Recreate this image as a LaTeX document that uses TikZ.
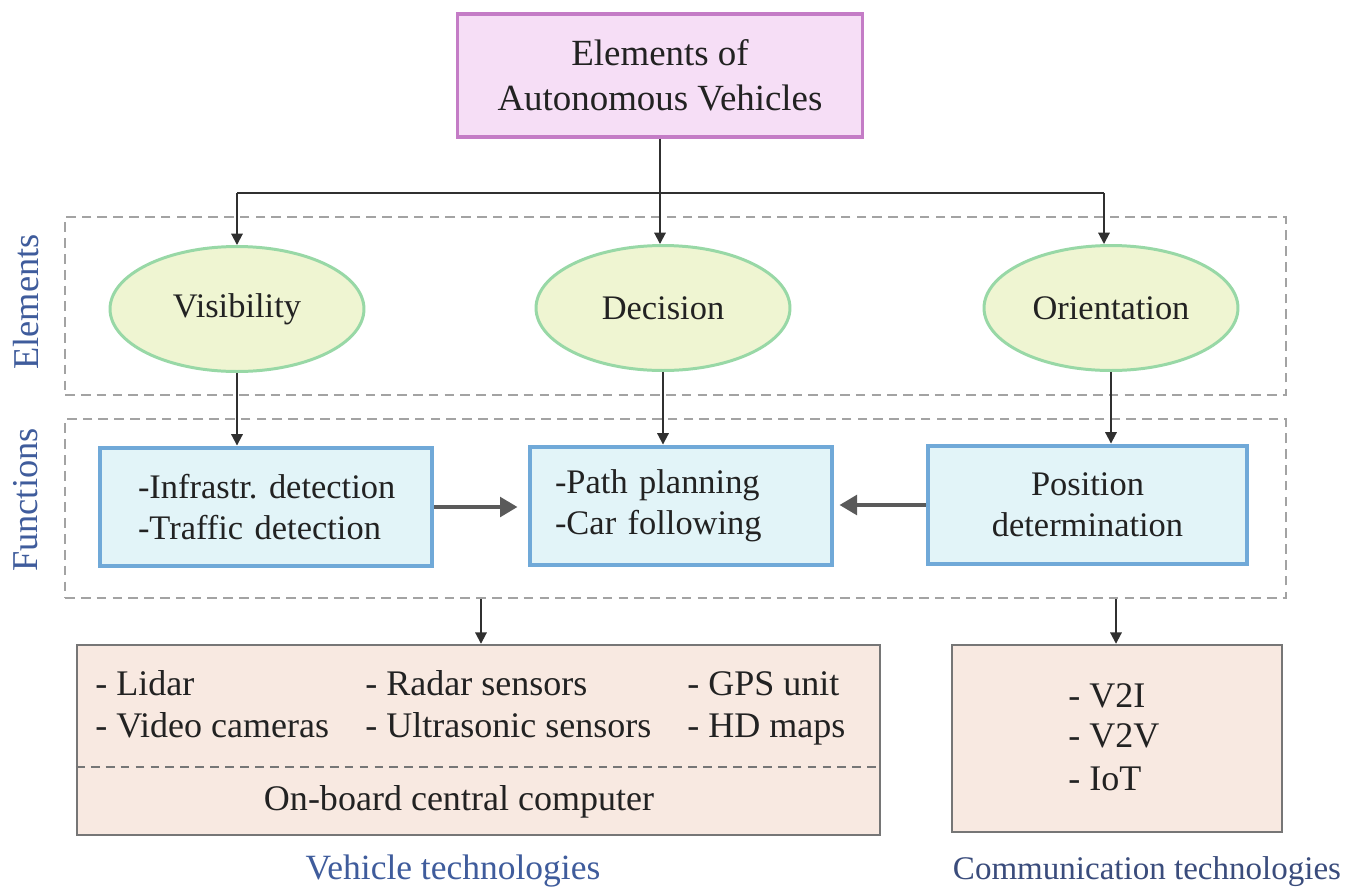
\documentclass[tikz,border=0pt]{standalone}
\usepackage{fontspec}
\setmainfont{Liberation Serif}
\usetikzlibrary{arrows.meta,shapes.geometric}
\frenchspacing

\definecolor{titlefill}{HTML}{F6DEF6}
\definecolor{titleline}{HTML}{C47CC6}
\definecolor{ellfill}{HTML}{EFF5D2}
\definecolor{ellline}{HTML}{98D8A6}
\definecolor{funcfill}{HTML}{E2F4F8}
\definecolor{funcline}{HTML}{70A9D8}
\definecolor{techfill}{HTML}{F8E9E1}
\definecolor{techline}{HTML}{767676}
\definecolor{grpline}{HTML}{A3A3A3}
\definecolor{capblue}{HTML}{3F5C9C}
\definecolor{capslate}{HTML}{3A4C7C}
\definecolor{ink}{HTML}{222222}
\definecolor{wirecol}{HTML}{303030}
\definecolor{fatcol}{HTML}{5A5A5A}

\tikzset{
  wire/.style={draw=wirecol, line width=1.1pt},
  arr/.style={wire, -{Triangle[length=6.5pt,width=6.5pt]}},
  fatarrow/.style={draw=fatcol, line width=2.8pt, -{Triangle[length=10pt,width=11pt]}},
  titlebox/.style={rectangle, draw=titleline, fill=titlefill, line width=2.2pt,
    minimum width=8.1cm, minimum height=2.46cm, align=center,
    font=\fontsize{21}{25.6}\selectfont},
  elem/.style={ellipse, draw=ellline, fill=ellfill, line width=1.7pt,
    minimum width=5.08cm, minimum height=2.5cm, inner sep=0pt,
    font=\fontsize{19.6}{23.6}\selectfont},
  func/.style={rectangle, draw=funcline, fill=funcfill, line width=2.8pt,
    minimum height=2.36cm, font=\fontsize{19.6}{23.6}\selectfont},
  tech/.style={rectangle, draw=techline, fill=techfill, line width=1.4pt},
  group/.style={rectangle, draw=grpline, line width=1.1pt,
    dash pattern=on 5.5pt off 3.5pt, minimum width=24.42cm},
  sepline/.style={draw=techline, line width=0.9pt, dash pattern=on 5pt off 3.5pt},
  item/.style={anchor=base west, inner sep=0pt, font=\fontsize{20.5}{24}\selectfont},
  side/.style={text=capblue, rotate=90, inner sep=0pt, font=\fontsize{20.7}{24}\selectfont},
}

\begin{document}
\begin{tikzpicture}[x=0.02cm, y=-0.02cm, every node/.append style={text=ink}]
  \path[fill=white] (0,0) rectangle (1350,890);
  \useasboundingbox (0,0) rectangle (1350,890);

  % dashed groups
  \node[group, minimum height=3.56cm] (elemgrp) at (675.5,306) {};
  \node[group, minimum height=3.58cm] (funcgrp) at (675.5,508.5) {};
  \node[side] (elemlab) at (26,302) {Elements};
  \node[side] (funclab) at (26,500) {Functions};

  % root
  \node[titlebox] (top) at (660,75.5) {Elements of\\Autonomous Vehicles};

  % elements
  \node[elem] (vis) at (237,309) {\raisebox{-0.12cm}{Visibility}};
  \node[elem] (dec) at (663,308) {\raisebox{-0.1cm}{Decision}};
  \node[elem] (ori) at (1111,308) {\raisebox{-0.1cm}{Orientation}};

  % functions
  \node[func, text width=5.5cm, inner xsep=0.57cm, align=left] (infra) at (266,507)
    {\hspace*{0.19cm}-Infrastr. detection\\\hspace*{0.19cm}-Traffic detection};
  \node[func, text width=5.04cm, inner xsep=0.5cm, align=left] (path) at (681,506)
    {-Path planning\\-Car following};
  \node[func, minimum width=6.38cm, align=center] (pos) at (1087.5,505)
    {Position\\determination};

  % technologies
  \node[tech, minimum width=16.06cm, minimum height=3.8cm] (veh) at (478.5,740) {};
  \node[tech, minimum width=6.6cm, minimum height=3.74cm] (comm) at (1117,738.5) {};

  \node[item] (lidar) at (95,695) {- Lidar};
  \node[item] (video) at (95,737) {- Video cameras};
  \node[item] (radar) at (365,695) {- Radar sensors};
  \node[item] (ultra) at (365,737) {- Ultrasonic sensors};
  \node[item] (gps) at (687,695) {- GPS unit};
  \node[item] (hdmap) at (687,737) {- HD maps};
  \coordinate (sep) at (0,767);
  \draw[sepline] (veh.west |- sep) -- (veh.east |- sep);
  \node[item, anchor=base] (obc) at (459,810) {On-board central computer};

  \node[item] (v2i) at (1068,707) {- V2I};
  \node[item] (v2v) at (1068,747) {- V2V};
  \node[item] (iot) at (1068,790) {- IoT};

  \node[anchor=base, inner sep=0pt, text=capblue, font=\fontsize{20.2}{24}\selectfont]
    (vehcap) at (453,879) {Vehicle technologies};
  \node[anchor=base, inner sep=0pt, text=capslate, font=\fontsize{18.8}{22}\selectfont]
    (commcap) at (1147,879) {Communication technologies};

  % root to elements
  \coordinate (hubL) at (237,193);
  \coordinate (hubM) at (660,193);
  \coordinate (hubR) at (1104,193);
  \draw[wire] (top.south -| hubM) -- (hubM);
  \draw[wire] (hubL) -- (hubR);
  \draw[arr] (hubL) -- (hubL |- vis.north);
  \draw[arr] (hubM) -- (hubM |- dec.north);
  \draw[arr] (hubR) -- (hubR |- ori.north);

  % elements to functions
  \draw[arr] (vis.south) -- (vis.south |- infra.north);
  \draw[arr] (dec.south) -- (dec.south |- path.north);
  \draw[arr] (ori.south) -- (ori.south |- pos.north);

  % functions feeding the decision box
  \draw[fatarrow, shorten >=0.2cm] (infra.east) -- (infra.east -| path.west);
  \draw[fatarrow, shorten >=0.1cm] (pos.west) -- (pos.west -| path.east);

  % functions to technologies
  \coordinate (vx) at (481,0);
  \coordinate (cx) at (1116,0);
  \draw[arr] (funcgrp.south -| vx) -- (veh.north -| vx);
  \draw[arr] (funcgrp.south -| cx) -- (comm.north -| cx);
\end{tikzpicture}
\end{document}
